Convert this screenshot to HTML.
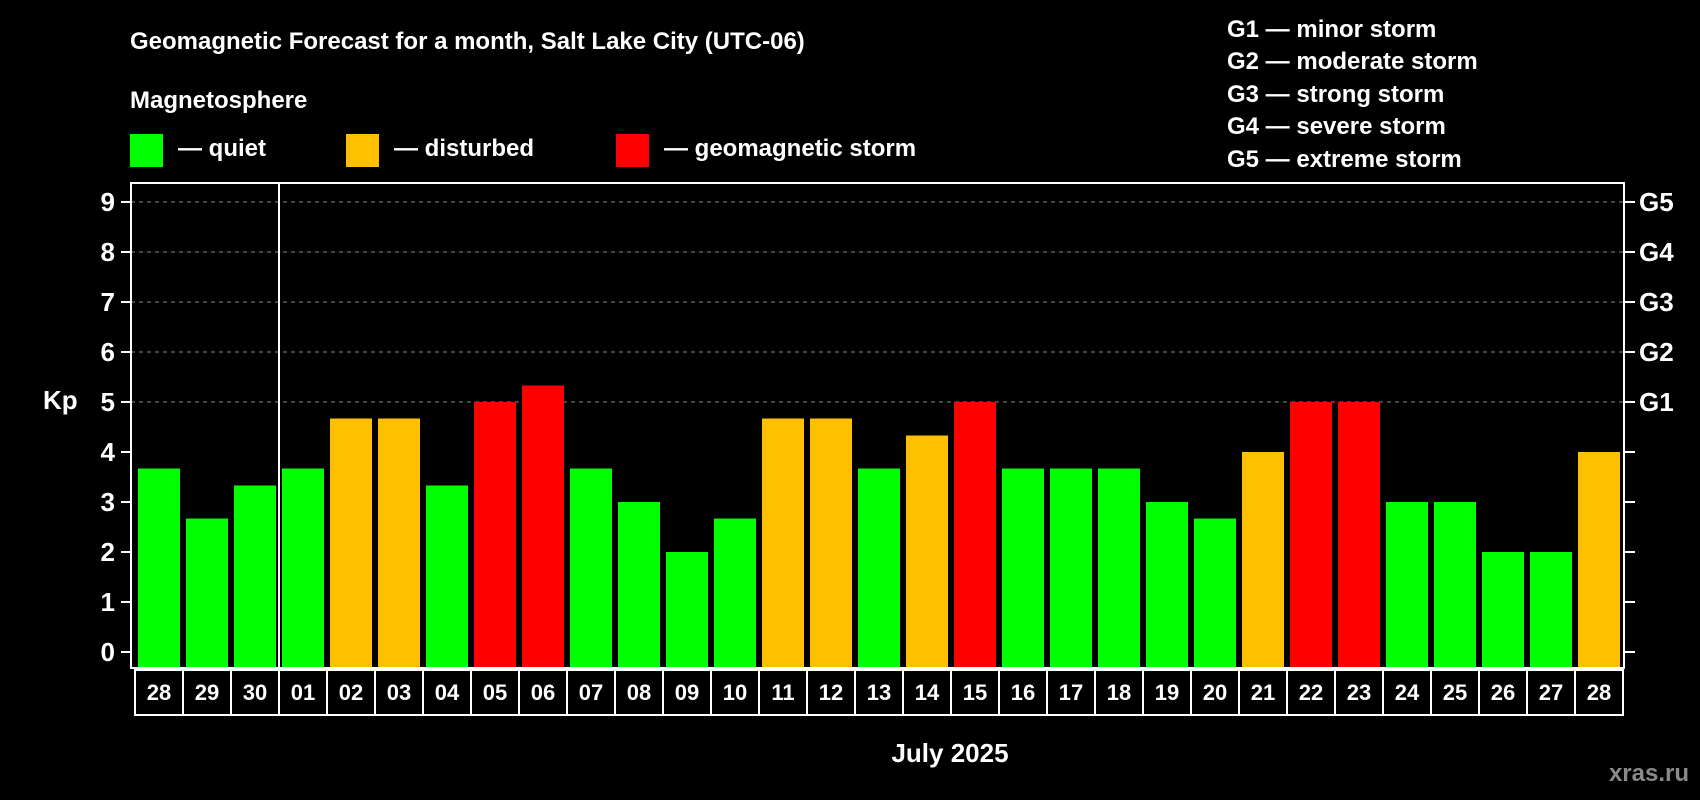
<!DOCTYPE html>
<html><head><meta charset="utf-8"><style>
html,body{margin:0;padding:0;background:#000;}
svg{display:block;font-family:"Liberation Sans",sans-serif;font-weight:bold;}
</style></head><body>
<svg id="chart" width="1700" height="800" viewBox="0 0 1700 800">
<rect x="0" y="0" width="1700" height="800" fill="#000"/>
<text x="130" y="49" fill="#fff" font-size="24">Geomagnetic Forecast for a month, Salt Lake City (UTC-06)</text>
<text x="130" y="108" fill="#fff" font-size="24">Magnetosphere</text>
<rect x="130" y="134" width="33" height="33" fill="#00ff00"/>
<text x="178" y="156" fill="#fff" font-size="24">— quiet</text>
<rect x="346" y="134" width="33" height="33" fill="#ffc000"/>
<text x="394" y="156" fill="#fff" font-size="24">— disturbed</text>
<rect x="616" y="134" width="33" height="33" fill="#ff0000"/>
<text x="664" y="156" fill="#fff" font-size="24">— geomagnetic storm</text>
<g fill="#fff" font-size="24">
<text x="1227" y="37">G1 — minor storm</text>
<text x="1227" y="69">G2 — moderate storm</text>
<text x="1227" y="102">G3 — strong storm</text>
<text x="1227" y="134">G4 — severe storm</text>
<text x="1227" y="167">G5 — extreme storm</text>
</g>
<text x="43" y="409" fill="#fff" font-size="26">Kp</text>
<text x="950" y="762" fill="#fff" font-size="26" text-anchor="middle">July 2025</text>
<text x="1689" y="781" fill="#8a8a8a" font-size="24" text-anchor="end">xras.ru</text>
<g id="grid"></g><g id="bars"></g><g id="axes"></g><g id="xlabels"></g>
</svg>
<script>
const days = ["28","29","30","01","02","03","04","05","06","07","08","09","10","11","12","13","14","15","16","17","18","19","20","21","22","23","24","25","26","27","28"];
const kpValues = [3.67,2.67,3.33,3.67,4.67,4.67,3.33,5,5.33,3.67,3,2,2.67,4.67,4.67,3.67,4.33,5,3.67,3.67,3.67,3,2.67,4,5,5,3,3,2,2,4];
const yTicks = [0,1,2,3,4,5,6,7,8,9];
const gLabels = ["","","","","","G1","G2","G3","G4","G5"];
const NS="http://www.w3.org/2000/svg";
const L=131,R=1624,T=183,B=668,Y0=652,UNIT=50,X0=159,PITCH=48,BW=42;
const y=v=>Y0-v*UNIT, x=i=>X0+i*PITCH;
function mk(tag,attrs,parent){const e=document.createElementNS(NS,tag);for(const k in attrs)e.setAttribute(k,attrs[k]);parent.appendChild(e);return e;}
const grid=document.getElementById('grid'),bars=document.getElementById('bars'),axes=document.getElementById('axes'),xl=document.getElementById('xlabels');
yTicks.forEach((t,i)=>{
  if(t>=5){const g=mk('line',{x1:L,x2:R,y1:y(t),y2:y(t),stroke:'#888','stroke-dasharray':'4,4','stroke-width':1},grid);
  
  }
  const lt=mk('line',{x1:L-10,x2:L,y1:y(t),y2:y(t),stroke:'#fff','stroke-width':2},axes);
  
  
  const rt=mk('line',{x1:R,x2:R+11,y1:y(t),y2:y(t),stroke:'#fff','stroke-width':2},axes);
  
  
  const tl=mk('text',{x:115,y:y(t)+9,fill:'#fff','font-size':26,'text-anchor':'end'},axes);tl.textContent=t;
  
  
  if(gLabels[i]){const gl=mk('text',{x:1639,y:y(t)+9,fill:'#fff','font-size':26},axes);gl.textContent=gLabels[i];
  
  }
});
kpValues.forEach((v,i)=>{
  const c=v>=5?'#ff0000':(v>=4?'#ffc000':'#00ff00');
  const b=mk('rect',{x:x(i)-BW/2,y:y(v),width:BW,height:B-y(v),fill:c},bars);
  
  
  const cell=mk('rect',{x:x(i)-PITCH/2,y:670,width:PITCH,height:45,fill:'none',stroke:'#fff','stroke-width':2},xl);
  
  
  const t=mk('text',{x:x(i),y:700,fill:'#fff','font-size':22,'text-anchor':'middle'},xl);t.textContent=days[i];
  
  
});
const fr=mk('rect',{x:L,y:T,width:R-L,height:B-T,fill:'none',stroke:'#fff','stroke-width':2},axes);


const ml=mk('line',{x1:(x(2)+x(3))/2,x2:(x(2)+x(3))/2,y1:T,y2:B,stroke:'#fff','stroke-width':2},axes);


</script>
</body></html>
